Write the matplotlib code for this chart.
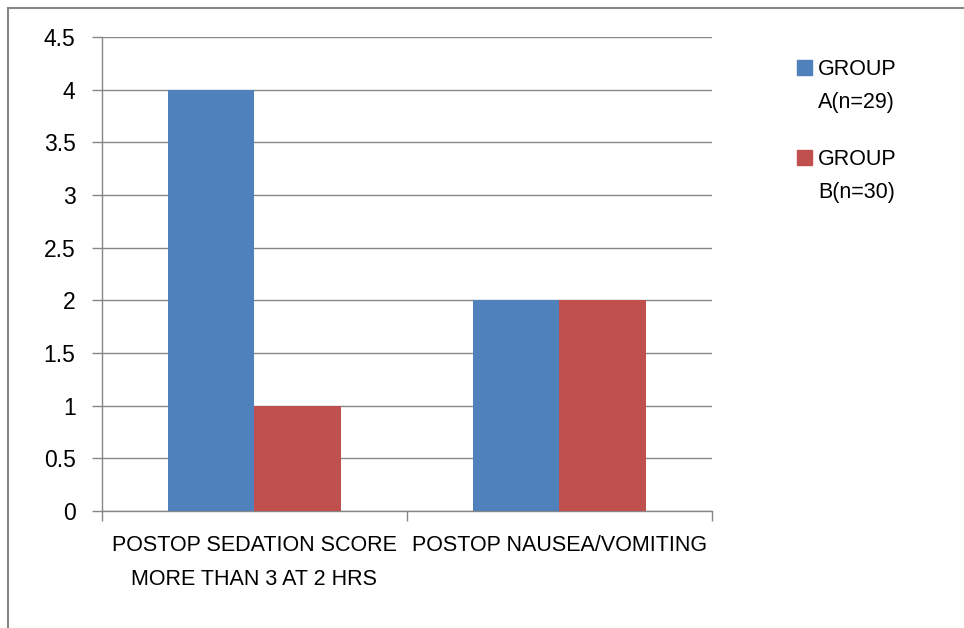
import numpy as np
import matplotlib.pyplot as plt
from matplotlib.patches import Rectangle
from matplotlib.lines import Line2D

plt.rcParams['font.family'] = ['Liberation Sans', 'DejaVu Sans']

categories = ["POSTOP SEDATION SCORE\nMORE THAN 3 AT 2 HRS", "POSTOP NAUSEA/VOMITING"]
group_a = [4, 2]
group_b = [1, 2]
series_names = ["GROUP\nA(n=29)", "GROUP\nB(n=30)"]
yticks = [0, 0.5, 1, 1.5, 2, 2.5, 3, 3.5, 4, 4.5]

blue = "#4F81BD"
red = "#C0504D"
grey = "#868686"

fig = plt.figure(figsize=(9.64, 6.28), dpi=100)
ax = fig.add_axes([102/964, 1-511/628, 610/964, 474/628])

x = np.arange(len(categories))
w = 0.285
ax.bar(x - w/2, group_a, w, color=blue, zorder=3)
ax.bar(x + w/2, group_b, w, color=red, zorder=3)

ax.set_xlim(-0.5, 1.5)
ax.set_ylim(0, 4.5)
ax.set_yticks(yticks)
ax.set_yticklabels([f"{v:g}" for v in yticks], fontsize=16.5)
ax.yaxis.grid(True, color=grey, linewidth=1, zorder=0)
ax.tick_params(axis='y', length=7, color=grey, width=1, pad=12)

ax.set_xticks(x)
ax.set_xticklabels(categories, fontsize=15.5, linespacing=1.85)
ax.tick_params(axis='x', length=0, pad=17)
ax.set_xticks([-0.5, 0.5, 1.5], minor=True)
ax.tick_params(axis='x', which='minor', length=7, color=grey, width=1)

for s in ['top', 'right']:
    ax.spines[s].set_visible(False)
for s in ['left', 'bottom']:
    ax.spines[s].set_color(grey)
    ax.spines[s].set_linewidth(1)

# legend
for i, (name, col) in enumerate(zip(series_names, [blue, red])):
    y0 = 1 - (75 + i*90)/628
    fig.add_artist(Rectangle((797/964, y0), 15/964, 15/628, color=col,
                             transform=fig.transFigure))
    fig.text(818/964, y0 + 16/628, name, fontsize=15.5, va='top', ha='left',
             linespacing=1.75, transform=fig.transFigure)

# outer frame
fig.add_artist(Line2D([8/964, 8/964], [0, 1-8/628], color=grey, lw=1.5,
                      transform=fig.transFigure))
fig.add_artist(Line2D([8/964, 1], [1-8/628, 1-8/628], color=grey, lw=1.5,
                      transform=fig.transFigure))

fig.savefig("out.png", dpi=100)
